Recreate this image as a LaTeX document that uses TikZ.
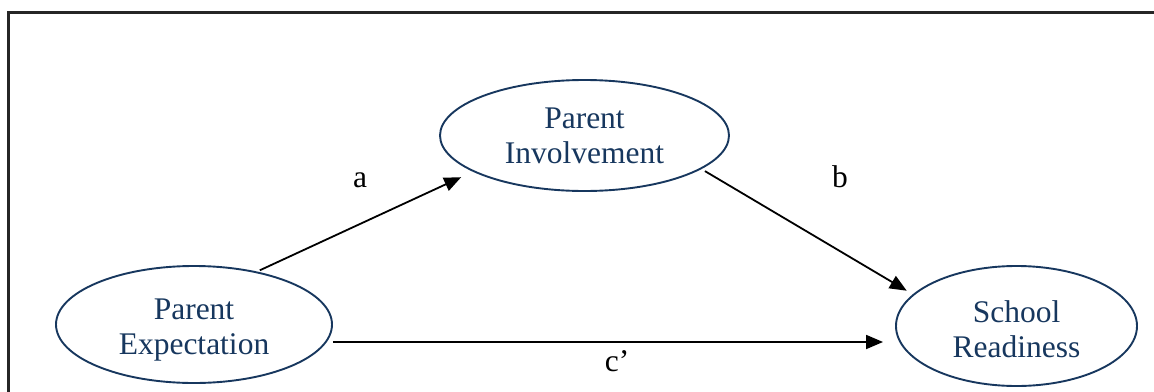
\documentclass[tikz,border=0pt]{standalone}
\usepackage{fontspec}
\setmainfont{Liberation Serif}
\usetikzlibrary{arrows.meta,shapes.geometric}
\definecolor{navy}{HTML}{17375E}
\tikzset{
  var/.style={ellipse, draw=navy, line width=1.9pt, inner sep=0pt},
  vartext/.style={text=navy, align=center, inner sep=0pt, font=\fontsize{31.5}{35}\selectfont},
  arr/.style={line width=1.8pt, -{Triangle[length=17pt,width=14pt]}},
  lbl/.style={font=\fontsize{31.5}{35}\selectfont, anchor=base, inner sep=0pt}
}
\begin{document}
\begin{tikzpicture}[x=1pt,y=-1pt]
\useasboundingbox (0,0) rectangle (1154,391);
\clip (0,0) rectangle (1154,391);
\draw[line width=2.3pt, black!85] (8.5,12.5) rectangle (1170,410);
\node[var, minimum width=276pt, minimum height=117pt] (pe) at (194,324.5) {};
\node[var, minimum width=289pt, minimum height=111pt] (pi) at (584.5,135.5) {};
\node[var, minimum width=241pt, minimum height=120pt] (sr) at (1016.5,326) {};
\node[vartext] (pet) at ([yshift=-6pt]pe.center) {Parent\\Expectation};
\node[vartext] (pit) at (pi.center) {Parent\\Involvement};
\node[vartext] (srt) at ([yshift=-3pt]sr.center) {School\\Readiness};
\draw[arr, shorten <=3pt, shorten >=13pt] (pe.40.4) -- (pi.198.4);
\draw[arr, shorten <=4pt, shorten >=7pt] (pi.-16.1) -- (sr.163.2);
\draw[arr, shorten >=12pt] ([yshift=-17.5pt]pe.east) -- ([yshift=-17.5pt]pe.east -| sr.west);
\node[lbl] (la) at (360,187) {a};
\node[lbl] (lb) at (840,187) {b};
\node[lbl] (lc) at (617,371) {c’};
\end{tikzpicture}
\end{document}
